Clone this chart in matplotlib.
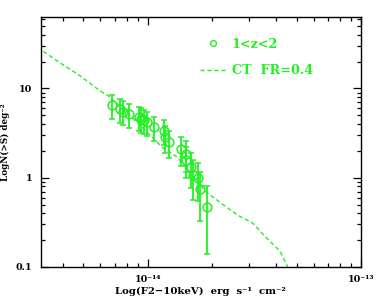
import matplotlib
matplotlib.use("Agg")
import matplotlib.pyplot as plt
import matplotlib.ticker as mticker
from matplotlib.lines import Line2D

# Dados: contagens cumulativas N(>S) para 1<z<2
fluxo = [6.8e-15, 7.4e-15, 7.7e-15, 8.2e-15, 9.1e-15, 9.3e-15, 9.6e-15, 9.9e-15,
         1.07e-14, 1.19e-14, 1.21e-14, 1.26e-14, 1.43e-14, 1.51e-14, 1.52e-14,
         1.60e-14, 1.63e-14, 1.72e-14, 1.77e-14, 1.89e-14]
n_maior = [6.5, 5.9, 5.5, 5.2, 4.8, 4.57, 4.4, 4.2, 3.7, 3.37, 2.84, 2.52,
           2.12, 1.86, 1.59, 1.32, 1.07, 1.0, 0.75, 0.47]
erro_n = [1.9, 1.75, 1.65, 1.55, 1.45, 1.4, 1.35, 1.3, 1.15, 1.05, 0.95, 0.85,
          0.75, 0.7, 0.6, 0.55, 0.5, 0.45, 0.42, 0.33]

# Modelo CT com FR=0.4
fluxo_modelo = [3.25e-15, 3.86e-15, 4.80e-15, 5.95e-15, 6.63e-15, 9.17e-15,
                1.176e-14, 1.368e-14, 1.626e-14, 1.892e-14, 2.02e-14, 2.43e-14,
                2.70e-14, 3.11e-14, 3.62e-14, 4.17e-14, 4.54e-14]
n_modelo = [26.0, 19.6, 14.0, 9.5, 8.1, 3.94, 2.17, 1.72, 1.05, 0.68, 0.61,
            0.44, 0.37, 0.31, 0.21, 0.151, 0.10]

verde = '#22f022'
fonte = dict(family='DejaVu Serif', weight='bold')

fig = plt.figure(figsize=(3.82, 3.0), dpi=100)
ax = fig.add_axes([0.107, 0.11, 0.838, 0.833])

ax.plot(fluxo_modelo, n_modelo, color=verde, lw=1.0, ls=(0, (3, 2)))
ax.errorbar(fluxo, n_maior, yerr=erro_n, fmt='o', color=verde, mfc='none',
            mec=verde, ms=6.3, mew=1.1, elinewidth=1.3, capsize=2.2, capthick=1.1)

ax.set_xscale('log')
ax.set_yscale('log')
ax.set_xlim(10 ** -14.5, 1e-13)
ax.set_ylim(0.1, 63)

ax.xaxis.set_major_locator(mticker.FixedLocator([1e-14, 1e-13]))
ax.xaxis.set_major_formatter(mticker.FixedFormatter(['10⁻¹⁴', '10⁻¹³']))
ax.xaxis.set_minor_locator(mticker.LogLocator(base=10, subs=range(2, 10)))
ax.xaxis.set_minor_formatter(mticker.NullFormatter())
ax.yaxis.set_major_locator(mticker.FixedLocator([0.1, 1, 10]))
ax.yaxis.set_major_formatter(mticker.FixedFormatter(['0.1', '1', '10']))
ax.yaxis.set_minor_locator(mticker.LogLocator(base=10, subs=range(2, 10)))
ax.yaxis.set_minor_formatter(mticker.NullFormatter())

ax.tick_params(which='both', direction='in', top=True, right=True, width=0.9)
ax.tick_params(which='major', length=6, pad=6)
ax.tick_params(which='minor', length=3)
for lab in ax.get_xticklabels() + ax.get_yticklabels():
    lab.set_fontfamily('DejaVu Serif')
    lab.set_fontweight('bold')
    lab.set_fontsize(6.8)
for sp in ax.spines.values():
    sp.set_linewidth(1.0)

ax.set_xlabel('Log(F2−10keV)  erg  s⁻¹  cm⁻²', labelpad=2, size=7.3, **fonte)
ax.set_ylabel('LogN(>S) deg⁻²', labelpad=4, size=6.3, **fonte)

# Legenda
alcas = [Line2D([], [], ls='none', marker='o', mfc='none', mec=verde, ms=4.2, mew=1.0),
         Line2D([], [], color=verde, lw=1.0, ls=(0, (3, 2)))]
leg = ax.legend(alcas, ['1<z<2', 'CT  FR=0.4'], loc='upper right',
                bbox_to_anchor=(0.882, 0.958), frameon=False, handlelength=2.0,
                labelspacing=1.05, handletextpad=0.5, labelcolor=verde,
                borderpad=0.3, prop=dict(family='DejaVu Serif', weight='bold', size=9.2))

fig.savefig('out.png', dpi=100)
